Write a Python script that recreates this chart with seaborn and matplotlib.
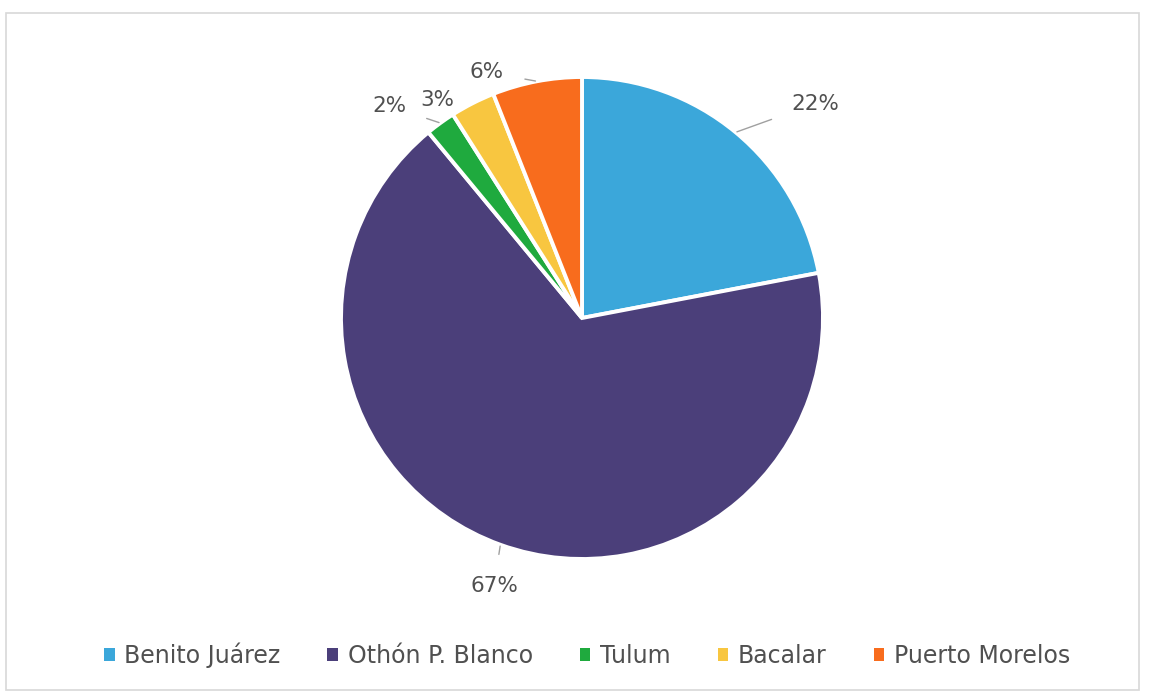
import numpy as np
import seaborn as sns
import matplotlib.pyplot as plt
from matplotlib.patches import Patch, Rectangle

municipios = ["Benito Juárez", "Othón P. Blanco", "Tulum", "Bacalar", "Puerto Morelos"]
porcentajes = [22, 67, 2, 3, 6]
colores = ["#3ba7da", "#4b3f7a", "#1faa3e", "#f8c640", "#f86c1d"]

# label placement per slice: (x, y) of text in pie radius units, and leader line on/off
label_pos = [(0.97, 0.89), (-0.365, -1.11), (-0.80, 0.88), (-0.60, 0.905), (-0.395, 1.02)]
leader = [True, True, True, False, True]


def main():
    sns.set_theme(style="white")
    plt.rcParams["font.family"] = ["DejaVu Sans"]
    text_color = "#505050"

    fig = plt.figure(figsize=(11.51, 6.94), dpi=100)
    ax = fig.add_axes([0, 0, 1, 1])
    palette = sns.color_palette(colores)

    wedges, _ = ax.pie(porcentajes,
                       colors=palette,
                       startangle=90,
                       counterclock=False,
                       wedgeprops={"edgecolor": "white", "linewidth": 2.8})

    for w, pct, (tx, ty), line in zip(wedges, porcentajes, label_pos, leader):
        mid = np.deg2rad((w.theta1 + w.theta2) / 2)
        ex, ey = np.cos(mid), np.sin(mid)
        props = None
        if line:
            props = {"arrowstyle": "-", "color": "#a0a0a0", "lw": 1.0,
                     "shrinkA": 13, "shrinkB": 1}
        ax.annotate(f"{pct}%",
                    xy=(ex, ey),
                    xytext=(tx, ty),
                    ha="center",
                    va="center",
                    fontsize=15.5,
                    color=text_color,
                    arrowprops=props)

    ax.set_xlim(-582 / 241, (1151 - 582) / 241)
    ax.set_ylim(-(694 - 318) / 241, 318 / 241)
    ax.set_aspect("auto")

    handles = [Patch(facecolor=c, edgecolor="none", label=m) for m, c in zip(municipios, palette)]
    leg = fig.legend(handles=handles,
                     loc="center",
                     bbox_to_anchor=(0.51, 0.056),
                     ncol=5,
                     frameon=False,
                     fontsize=17,
                     handlelength=0.45,
                     handleheight=0.45,
                     handletextpad=0.4,
                     columnspacing=2.0)
    for t in leg.get_texts():
        t.set_color(text_color)

    fig.patches.append(Rectangle((0.005, 0.006), 0.985, 0.975, transform=fig.transFigure,
                                 fill=False, edgecolor="#d8d8d8", lw=1.2))

    plt.savefig("out.png", dpi=100)
    plt.gcf().clear()


if __name__ == "__main__":
    main()
